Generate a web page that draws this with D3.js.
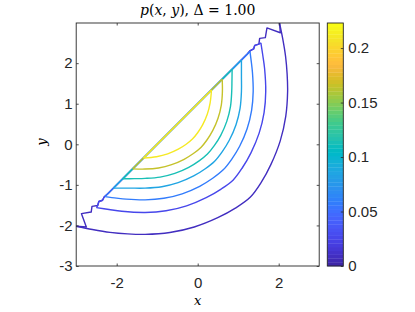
<!DOCTYPE html>
<html><head><meta charset="utf-8">
<script src="https://cdn.jsdelivr.net/npm/d3@7"></script>
<style>body{margin:0;background:#fff}svg{display:block}</style>
</head><body>
<svg id="c" width="415" height="312"></svg>
<script>
// ---------------- data ----------------
const xTicks = [-2, 0, 2];
const xTickLabels = ["-2", "0", "2"];
const yTicks = [-3, -2, -1, 0, 1, 2];
const yTickLabels = ["-3", "-2", "-1", "0", "1", "2"];
const cbTicks = [0, 0.05, 0.1, 0.15, 0.2];
const cbTickLabels = ["0", "0.05", "0.1", "0.15", "0.2"];
const colorMax = 0.223;
// contour levels, outermost to innermost
const levels = [0.009, 0.027, 0.056, 0.085, 0.112, 0.167, 0.212];

// contour arcs (x, y), from lower-left end to upper-right end
const arc1 = [[-3.0,-2.02],[-2.6,-2.10],[-2.165,-2.17],[-1.731,-2.208],[-1.3,-2.22],[-0.687,-2.174],[-0.085,-2.038],[0.495,-1.809],[0.941,-1.568],[1.302,-1.302],[1.568,-0.941],[1.809,-0.495],[2.038,0.085],[2.174,0.687],[2.22,1.3],[2.208,1.731],[2.17,2.165],[2.10,2.6],[2.02,2.99]];
const arc2 = [[-2.5,-1.56],[-2.189,-1.608],[-1.874,-1.651],[-1.3,-1.68],[-0.782,-1.639],[-0.275,-1.517],[0.21,-1.315],[0.578,-1.103],[0.878,-0.878],[1.103,-0.578],[1.315,-0.21],[1.517,0.275],[1.639,0.782],[1.68,1.3],[1.651,1.874],[1.608,2.189],[1.56,2.5]];
const arc3 = [[-2.29,-1.29],[-2.004,-1.327],[-1.768,-1.352],[-1.3,-1.37],[-0.836,-1.331],[-0.383,-1.22],[0.049,-1.036],[0.37,-0.838],[0.63,-0.63],[0.838,-0.37],[1.036,-0.049],[1.22,0.383],[1.331,0.836],[1.37,1.3],[1.352,1.768],[1.327,2.004],[1.29,2.29]];
const arc4 = [[-2.08,-1.08],[-1.677,-1.08],[-1.3,-1.08],[-0.886,-1.046],[-0.483,-0.946],[-0.099,-0.78],[0.187,-0.603],[0.418,-0.418],[0.603,-0.187],[0.78,0.099],[0.946,0.483],[1.046,0.886],[1.08,1.3],[1.08,1.677],[1.08,2.08]];
const arc5 = [[-1.85,-0.85],[-1.564,-0.846],[-1.3,-0.84],[-0.928,-0.809],[-0.565,-0.718],[-0.221,-0.569],[0.035,-0.409],[0.241,-0.241],[0.409,-0.035],[0.569,0.221],[0.718,0.565],[0.809,0.928],[0.84,1.3],[0.846,1.564],[0.85,1.85]];
const arc6 = [[-1.605,-0.605],[-1.3,-0.61],[-0.968,-0.583],[-0.644,-0.502],[-0.336,-0.37],[-0.106,-0.228],[0.079,-0.079],[0.228,0.106],[0.37,0.336],[0.502,0.644],[0.583,0.968],[0.61,1.3],[0.605,1.605]];
const arc7 = [[-1.34,-0.34],[-1.017,-0.306],[-0.741,-0.236],[-0.479,-0.121],[-0.285,0.001],[-0.13,0.13],[-0.001,0.285],[0.121,0.479],[0.236,0.741],[0.306,1.017],[0.34,1.34]];

// the same contours where they run along the edge y = x + 1 (with the grid's staircase)
const edge1 = [[2.02,2.99],[2.04,2.75],[1.71,2.87],[1.67,2.63],[1.53,2.61],[1.51,2.47],[1.41,2.44],[1.38,2.35],[1.30,2.31],[1.22,2.22],[-2.22,-1.22],[-2.31,-1.30],[-2.35,-1.38],[-2.44,-1.41],[-2.47,-1.51],[-2.61,-1.53],[-2.63,-1.67],[-2.87,-1.71],[-2.75,-2.04],[-3.0,-2.02]];
const edge2 = [[1.56,2.5],[1.51,2.47],[1.41,2.44],[1.38,2.35],[1.30,2.31],[1.22,2.22],[-2.22,-1.22],[-2.31,-1.30],[-2.35,-1.38],[-2.44,-1.41],[-2.47,-1.51],[-2.5,-1.56]];
const edge3 = [[1.29,2.29],[-2.29,-1.29]];
const edge4 = [[1.08,2.08],[-2.08,-1.08]];
const edge5 = [[0.85,1.85],[-1.85,-0.85]];
const edge6 = [[0.605,1.605],[-1.605,-0.605]];
const edge7 = [[0.34,1.34],[-1.34,-0.34]];

const arcs = [arc1, arc2, arc3, arc4, arc5, arc6, arc7];
const edges = [edge1, edge2, edge3, edge4, edge5, edge6, edge7];

// parula(64) colormap (style)
const parula = [[0.2422,0.1504,0.6603],[0.2504,0.1650,0.7076],[0.2578,0.1818,0.7511],[0.2647,0.1978,0.7952],[0.2706,0.2147,0.8364],[0.2751,0.2342,0.8710],[0.2783,0.2559,0.8991],[0.2803,0.2782,0.9221],[0.2813,0.3006,0.9414],[0.2810,0.3228,0.9579],[0.2795,0.3447,0.9717],[0.2760,0.3667,0.9829],[0.2699,0.3892,0.9906],[0.2602,0.4123,0.9952],[0.2440,0.4358,0.9988],[0.2206,0.4603,0.9973],[0.1963,0.4847,0.9892],[0.1834,0.5074,0.9798],[0.1786,0.5289,0.9682],[0.1764,0.5499,0.9520],[0.1687,0.5703,0.9359],[0.1540,0.5902,0.9218],[0.1460,0.6091,0.9079],[0.1380,0.6276,0.8973],[0.1248,0.6459,0.8883],[0.1113,0.6635,0.8763],[0.0952,0.6798,0.8598],[0.0689,0.6948,0.8394],[0.0297,0.7082,0.8163],[0.0036,0.7203,0.7917],[0.0067,0.7312,0.7660],[0.0433,0.7411,0.7394],[0.0964,0.7500,0.7120],[0.1408,0.7584,0.6842],[0.1717,0.7670,0.6554],[0.1938,0.7758,0.6251],[0.2161,0.7843,0.5923],[0.2470,0.7918,0.5567],[0.2906,0.7973,0.5188],[0.3406,0.8008,0.4789],[0.3909,0.8029,0.4354],[0.4456,0.8024,0.3909],[0.5044,0.7993,0.3480],[0.5616,0.7942,0.3045],[0.6174,0.7876,0.2612],[0.6720,0.7793,0.2227],[0.7242,0.7698,0.1910],[0.7738,0.7598,0.1646],[0.8203,0.7498,0.1535],[0.8634,0.7406,0.1596],[0.9035,0.7330,0.1774],[0.9393,0.7288,0.2100],[0.9728,0.7298,0.2394],[0.9956,0.7434,0.2371],[0.9970,0.7659,0.2199],[0.9952,0.7893,0.2028],[0.9892,0.8136,0.1885],[0.9786,0.8386,0.1766],[0.9676,0.8639,0.1643],[0.9610,0.8890,0.1537],[0.9597,0.9135,0.1423],[0.9628,0.9373,0.1265],[0.9691,0.9606,0.1064],[0.9769,0.9839,0.0805]];

// ---------------- drawing ----------------
const AX = "#262626";
const FONT = "'Liberation Sans', Arial, Helvetica, sans-serif";
const SERIF = "'DejaVu Serif', serif";
const P = {l: 76.2, r: 319.2, t: 23, b: 266};
const CB = {l: 327.3, r: 343.3};

const svg = d3.select("#c");
const xs = d3.scaleLinear().domain([-3, 3]).range([P.l, P.r]);
const ys = d3.scaleLinear().domain([-3, 2.99]).range([P.b, P.t]);
const cs = d3.scaleLinear().domain([0, colorMax]).range([P.b, P.t]);
const toHex = c => d3.rgb(c[0]*255, c[1]*255, c[2]*255).formatHex();
const colorOf = v => toHex(parula[Math.max(0, Math.min(parula.length-1, Math.floor(v / colorMax * parula.length)))]);

svg.append("defs").append("clipPath").attr("id", "clip")
  .append("rect").attr("x", P.l).attr("y", P.t).attr("width", P.r - P.l).attr("height", P.b - P.t);

const g = svg.append("g").attr("clip-path", "url(#clip)");
const smooth = d3.line().x(d => xs(d[0])).y(d => ys(d[1])).curve(d3.curveCatmullRom.alpha(0.5));
const straight = d3.line().x(d => xs(d[0])).y(d => ys(d[1]));

levels.forEach((lv, i) => {
  const col = colorOf(lv);
  g.append("path").attr("d", straight(edges[i])).attr("fill", "none")
    .attr("stroke", col).attr("stroke-width", 1.4).attr("stroke-linejoin", "round");
  g.append("path").attr("d", smooth(arcs[i])).attr("fill", "none")
    .attr("stroke", col).attr("stroke-width", 1.4).attr("stroke-linejoin", "round");
});

// axes
function styleAxis(sel) {
  sel.select(".domain").remove();
  sel.selectAll(".tick line").attr("stroke", AX).attr("stroke-width", 0.8);
  sel.selectAll("text").attr("fill", AX).style("font-family", FONT).style("font-size", "15px");
}
svg.append("g").attr("transform", `translate(0,${P.b})`)
  .call(d3.axisBottom(xs).tickValues(xTicks).tickSizeInner(-2.5).tickSizeOuter(0).tickPadding(11.7)
    .tickFormat((d, i) => xTickLabels[i])).call(styleAxis);
svg.append("g").attr("transform", `translate(0,${P.t})`)
  .call(d3.axisTop(xs).tickValues(xTicks).tickSizeInner(-2.5).tickSizeOuter(0).tickFormat(""))
  .call(styleAxis);
svg.append("g").attr("transform", `translate(${P.l},0)`)
  .call(d3.axisLeft(ys).tickValues(yTicks).tickSizeInner(-2.5).tickSizeOuter(0).tickPadding(3.5)
    .tickFormat((d, i) => yTickLabels[i])).call(styleAxis);
svg.append("g").attr("transform", `translate(${P.r},0)`)
  .call(d3.axisRight(ys).tickValues(yTicks).tickSizeInner(-2.5).tickSizeOuter(0).tickFormat(""))
  .call(styleAxis);

svg.append("rect").attr("x", P.l).attr("y", P.t).attr("width", P.r - P.l).attr("height", P.b - P.t)
  .attr("fill", "none").attr("stroke", AX).attr("stroke-width", 0.9);

// colorbar
const nC = parula.length;
svg.append("g").selectAll("rect").data(parula).join("rect")
  .attr("x", CB.l).attr("width", CB.r - CB.l)
  .attr("y", (d, i) => cs(colorMax * (i + 1) / nC))
  .attr("height", (d, i) => cs(colorMax * i / nC) - cs(colorMax * (i + 1) / nC) + 0.3)
  .attr("fill", d => toHex(d));
svg.append("g").attr("transform", `translate(${CB.r},0)`)
  .call(d3.axisRight(cs).tickValues(cbTicks).tickSizeInner(-2.5).tickSizeOuter(0).tickPadding(5)
    .tickFormat((d, i) => cbTickLabels[i])).call(styleAxis);
svg.append("rect").attr("x", CB.l).attr("y", P.t).attr("width", CB.r - CB.l).attr("height", P.b - P.t)
  .attr("fill", "none").attr("stroke", AX).attr("stroke-width", 0.9);

// labels
const title = svg.append("text").attr("x", (P.l + P.r) / 2).attr("y", 14.5).attr("text-anchor", "middle")
  .style("font-family", SERIF).style("font-size", "14px").attr("fill", "#000");
title.append("tspan").attr("font-style", "italic").text("p");
title.append("tspan").text("(");
title.append("tspan").attr("font-style", "italic").text("x");
title.append("tspan").text(", ");
title.append("tspan").attr("font-style", "italic").text("y");
title.append("tspan").text("), Δ = 1.00");

svg.append("text").attr("x", (P.l + P.r) / 2).attr("y", 305).attr("text-anchor", "middle")
  .style("font-family", SERIF).style("font-size", "13px").style("font-style", "italic").attr("fill", "#000").text("x");
svg.append("text").attr("transform", "translate(46,142) rotate(-90)").attr("text-anchor", "middle")
  .style("font-family", SERIF).style("font-size", "13px").style("font-style", "italic").attr("fill", "#000").text("y");
</script>
</body></html>
